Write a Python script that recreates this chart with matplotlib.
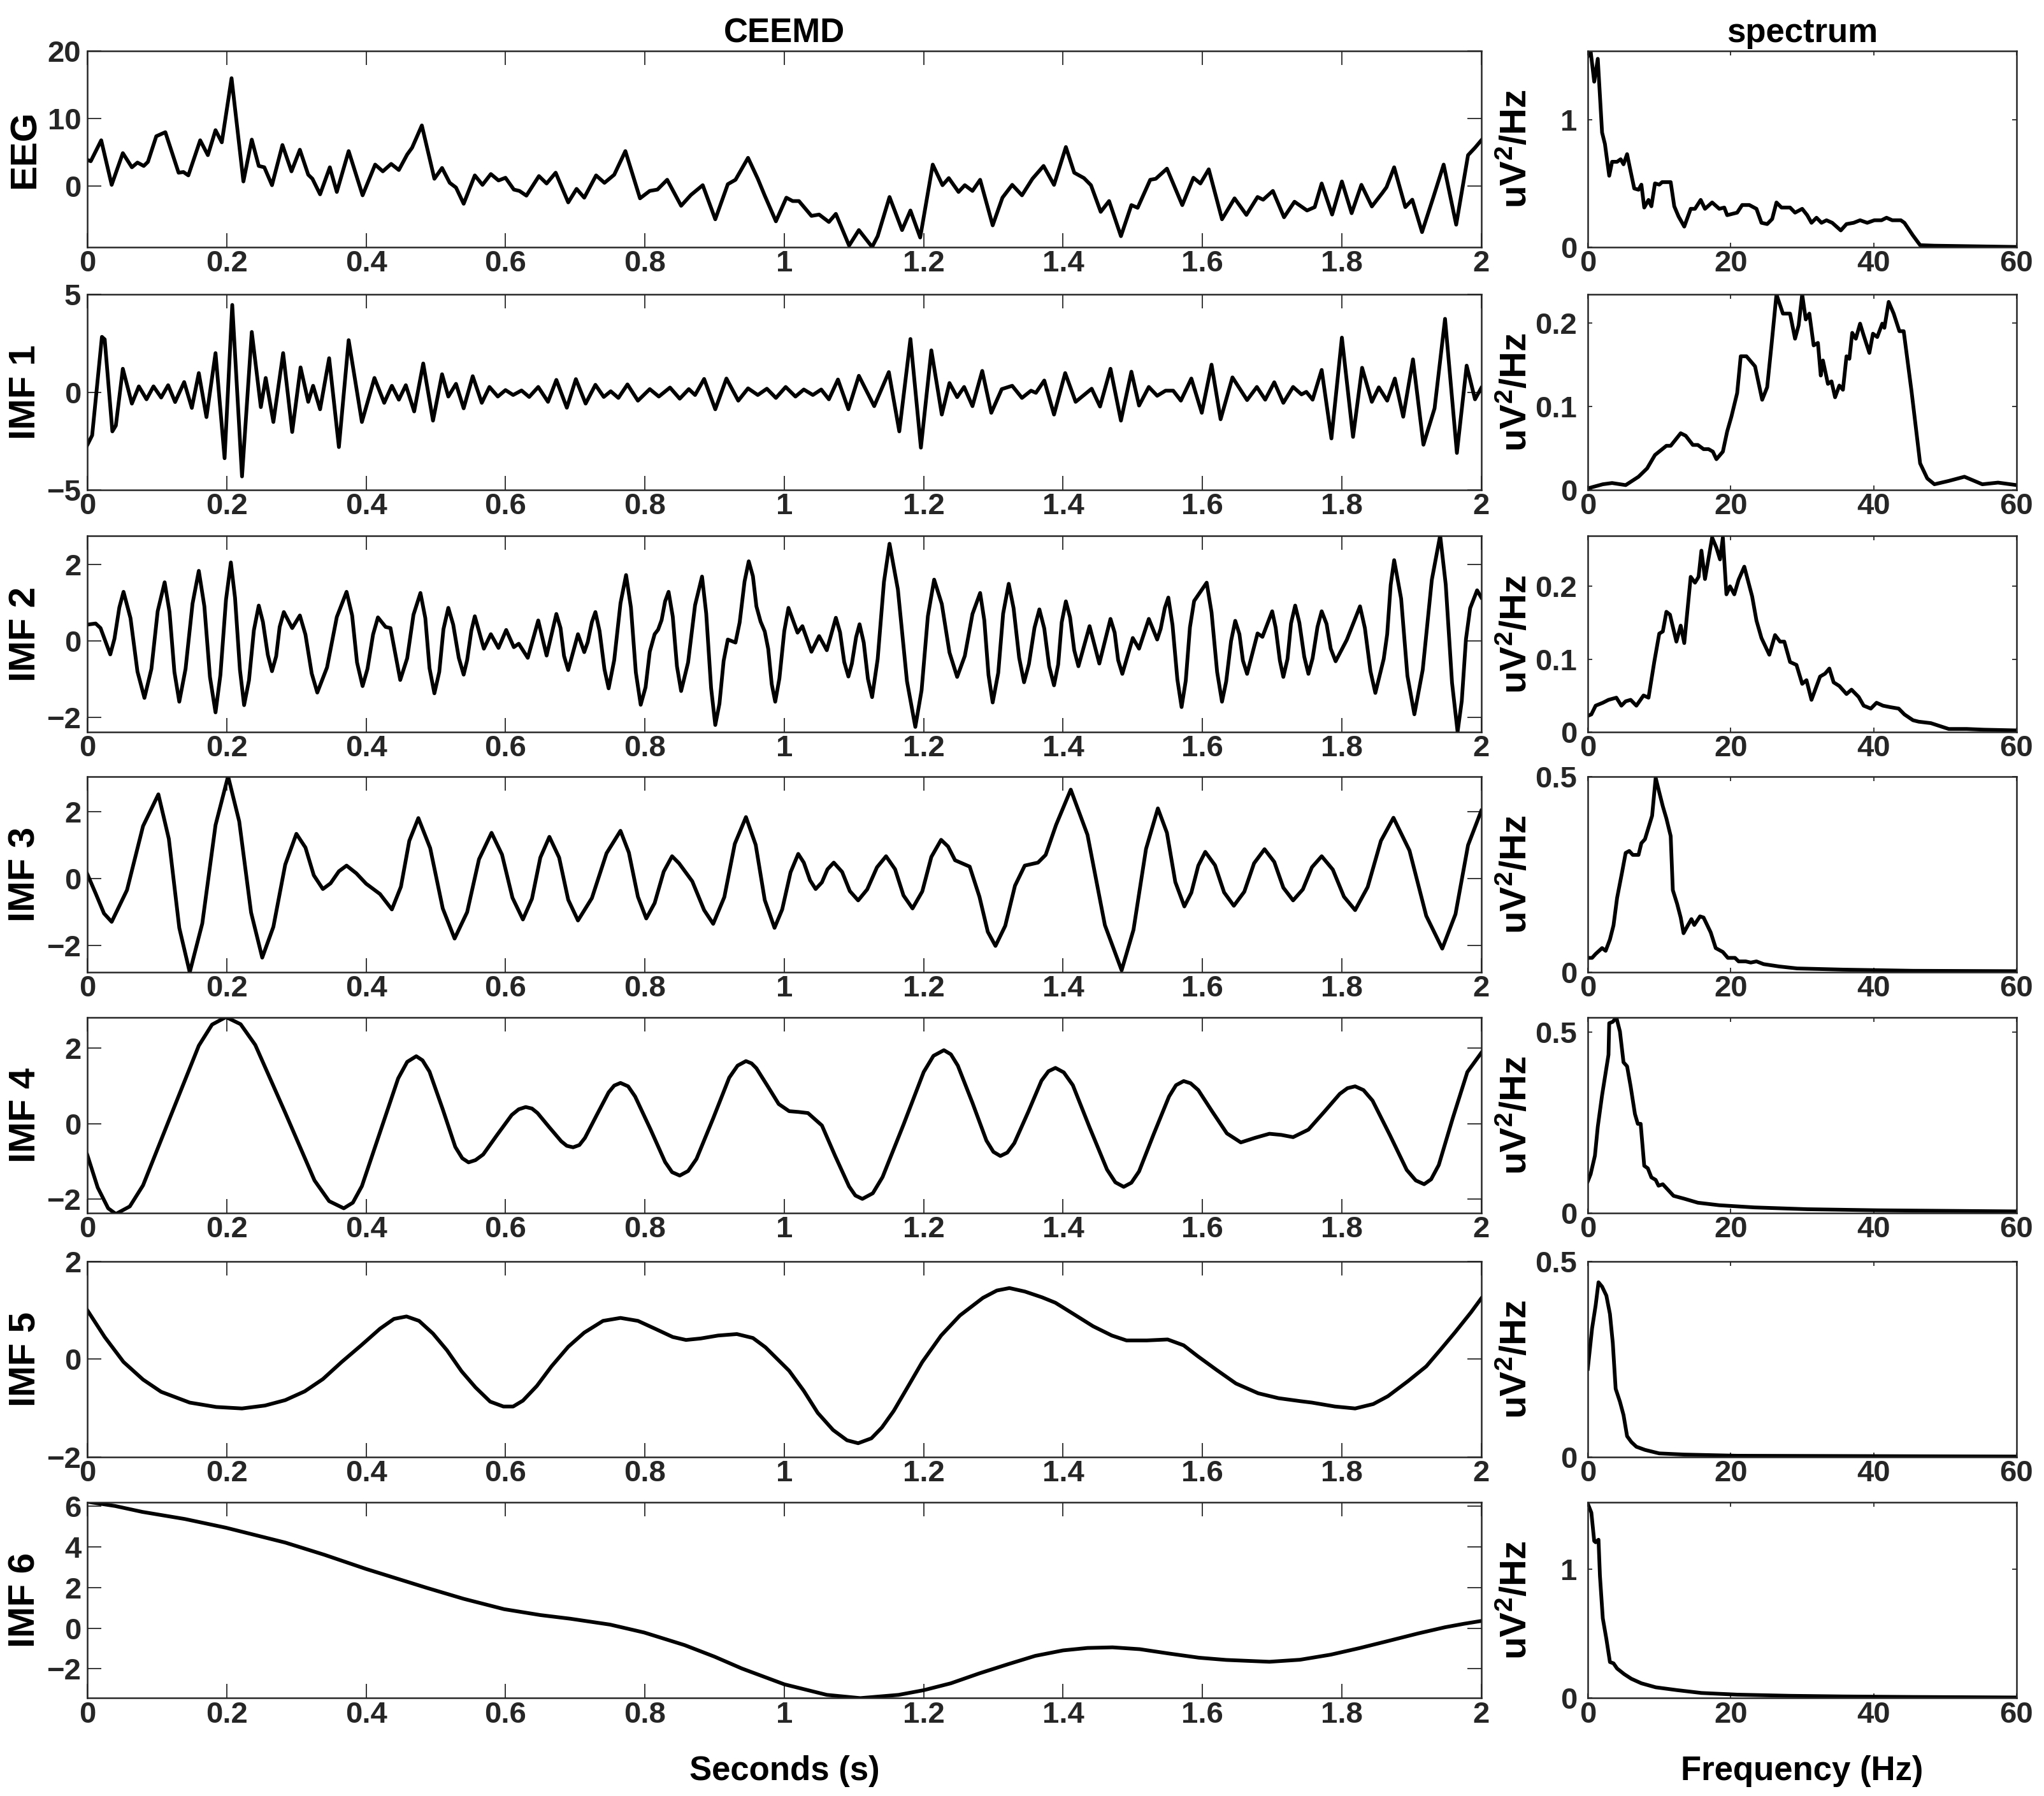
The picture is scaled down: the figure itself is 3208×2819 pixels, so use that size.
import numpy as np
import matplotlib
matplotlib.use('Agg')
import matplotlib.pyplot as plt

plt.rcParams['font.family'] = ['Liberation Sans', 'DejaVu Sans']
plt.rcParams['font.weight'] = 'bold'
plt.rcParams['mathtext.fontset'] = 'custom'
plt.rcParams['mathtext.rm'] = 'Liberation Sans:bold'
plt.rcParams['mathtext.bf'] = 'Liberation Sans:bold'
plt.rcParams['mathtext.default'] = 'bf'

# ---- time series: (seconds, value) ----
eeg = np.array([
    [0.000, 3.9], [0.005, 3.7], [0.020, 6.8], [0.035, 0.2], [0.051, 4.9], [0.064, 2.8], [0.072, 3.5],
    [0.081, 3.0], [0.087, 3.6], [0.099, 7.4], [0.112, 8.0], [0.131, 2.0], [0.138, 2.1], [0.145, 1.6],
    [0.162, 6.8], [0.173, 4.6], [0.184, 8.3], [0.193, 6.5], [0.207, 16.0], [0.224, 0.7], [0.236, 6.9],
    [0.246, 3.0], [0.254, 2.8], [0.265, 0.15], [0.280, 6.1], [0.293, 2.2], [0.305, 5.4], [0.317, 1.7],
    [0.323, 1.1], [0.334, -1.2], [0.348, 2.8], [0.358, -0.85], [0.375, 5.2], [0.395, -1.35], [0.413, 3.2],
    [0.424, 2.2], [0.436, 3.3], [0.447, 2.4], [0.459, 4.7], [0.466, 5.7], [0.480, 9.0], [0.498, 1.1],
    [0.509, 2.7], [0.520, 0.5], [0.529, -0.2], [0.540, -2.6], [0.556, 1.6], [0.567, 0.2], [0.579, 1.8],
    [0.590, 0.85], [0.600, 1.25], [0.612, -0.5], [0.620, -0.7], [0.630, -1.4], [0.648, 1.5], [0.659, 0.4],
    [0.672, 2.0], [0.690, -2.4], [0.702, -0.4], [0.713, -1.7], [0.730, 1.6], [0.742, 0.5], [0.756, 1.7],
    [0.772, 5.2], [0.793, -1.8], [0.807, -0.7], [0.818, -0.5], [0.832, 0.95], [0.852, -2.9], [0.866, -1.3],
    [0.883, 0.15], [0.901, -4.9], [0.919, 0.3], [0.930, 0.95], [0.948, 4.2], [0.962, 1.1], [0.972, -1.4],
    [0.988, -5.2], [1.003, -1.7], [1.012, -2.2], [1.021, -2.2], [1.039, -4.4], [1.050, -4.2], [1.064, -5.3],
    [1.074, -4.1], [1.093, -8.8], [1.107, -6.5], [1.126, -9.0], [1.134, -7.4], [1.151, -1.6], [1.169, -6.5],
    [1.181, -3.6], [1.195, -7.6], [1.213, 3.2], [1.227, 0.15], [1.236, 1.2], [1.250, -0.85], [1.259, 0.15],
    [1.270, -0.7], [1.281, 0.95], [1.299, -5.8], [1.313, -1.7], [1.327, 0.2], [1.341, -1.35], [1.356, 1.1],
    [1.372, 3.0], [1.387, 0.2], [1.404, 5.8], [1.416, 2.0], [1.430, 1.2], [1.440, 0.15], [1.454, -3.8],
    [1.466, -2.2], [1.483, -7.4], [1.498, -2.8], [1.507, -3.2], [1.525, 0.95], [1.533, 1.1], [1.549, 2.6],
    [1.571, -2.8], [1.587, 1.25], [1.597, 0.4], [1.609, 2.5], [1.628, -4.9], [1.646, -1.8], [1.663, -4.25],
    [1.679, -1.6], [1.687, -2.0], [1.701, -0.7], [1.717, -4.6], [1.732, -2.3], [1.750, -3.6], [1.761, -3.1],
    [1.771, 0.4], [1.786, -4.2], [1.800, 0.7], [1.814, -4.0], [1.828, 0.2], [1.843, -3.0], [1.858, -1.0],
    [1.864, -0.15], [1.875, 2.8], [1.891, -3.1], [1.901, -2.0], [1.915, -6.8], [1.931, -1.7], [1.946, 3.2],
    [1.964, -5.7], [1.981, 4.6], [1.991, 5.7], [2.000, 6.8]])

imf1 = np.array([
    [0.000, -2.7], [0.007, -2.2], [0.021, 2.83], [0.025, 2.7], [0.036, -2.0], [0.041, -1.7], [0.051, 1.2],
    [0.064, -0.58], [0.074, 0.3], [0.085, -0.36], [0.095, 0.3], [0.106, -0.27], [0.116, 0.36], [0.126, -0.5],
    [0.139, 0.52], [0.150, -0.8], [0.160, 0.98], [0.171, -1.27], [0.184, 2.0], [0.197, -3.37], [0.208, 4.46],
    [0.222, -4.3], [0.236, 3.08], [0.249, -0.76], [0.256, 0.73], [0.267, -1.52], [0.281, 2.0], [0.294, -2.03],
    [0.306, 1.27], [0.317, -0.49], [0.324, 0.33], [0.334, -0.87], [0.347, 1.74], [0.361, -2.8], [0.375, 2.66],
    [0.394, -1.52], [0.412, 0.73], [0.426, -0.54], [0.437, 0.33], [0.447, -0.38], [0.457, 0.36], [0.469, -0.98],
    [0.482, 1.47], [0.496, -1.45], [0.509, 0.92], [0.518, -0.22], [0.529, 0.43], [0.540, -0.82], [0.553, 0.82],
    [0.566, -0.54], [0.577, 0.27], [0.589, -0.22], [0.600, 0.11], [0.611, -0.14], [0.623, 0.09], [0.634, -0.24],
    [0.647, 0.27], [0.661, -0.49], [0.673, 0.63], [0.688, -0.79], [0.701, 0.67], [0.715, -0.58], [0.729, 0.38],
    [0.741, -0.24], [0.751, 0.05], [0.762, -0.29], [0.775, 0.40], [0.790, -0.43], [0.807, 0.16], [0.820, -0.22],
    [0.836, 0.24], [0.850, -0.33], [0.863, 0.16], [0.872, -0.14], [0.885, 0.68], [0.901, -0.87], [0.917, 0.70],
    [0.934, -0.43], [0.948, 0.20], [0.962, -0.14], [0.975, 0.18], [0.988, -0.29], [1.002, 0.27], [1.016, -0.22],
    [1.028, 0.14], [1.041, -0.14], [1.053, 0.14], [1.064, -0.36], [1.077, 0.65], [1.092, -0.87], [1.107, 0.84],
    [1.129, -0.71], [1.150, 1.03], [1.165, -2.0], [1.181, 2.72], [1.196, -2.83], [1.211, 2.14], [1.226, -1.14],
    [1.237, 0.47], [1.248, -0.25], [1.258, 0.27], [1.270, -0.71], [1.284, 1.09], [1.297, -1.05], [1.312, 0.16],
    [1.327, 0.33], [1.341, -0.29], [1.354, 0.08], [1.361, -0.03], [1.373, 0.60], [1.387, -1.14], [1.403, 0.98],
    [1.418, -0.49], [1.441, 0.18], [1.453, -0.73], [1.468, 1.20], [1.483, -1.45], [1.498, 1.05], [1.509, -0.68],
    [1.523, 0.27], [1.535, -0.18], [1.547, 0.08], [1.558, 0.08], [1.569, -0.43], [1.584, 0.70], [1.599, -1.05],
    [1.613, 1.41], [1.626, -1.38], [1.643, 0.76], [1.664, -0.40], [1.678, 0.27], [1.690, -0.38], [1.703, 0.51],
    [1.716, -0.54], [1.730, 0.27], [1.742, -0.11], [1.749, 0.02], [1.758, -0.38], [1.771, 1.14], [1.785, -2.36],
    [1.800, 2.79], [1.816, -2.28], [1.829, 1.25], [1.843, -0.49], [1.853, 0.25], [1.865, -0.43], [1.876, 0.70],
    [1.888, -1.25], [1.902, 1.68], [1.917, -2.68], [1.933, -0.82], [1.948, 3.75], [1.965, -3.10], [1.979, 1.36],
    [1.991, -0.36], [2.000, 0.22]])

imf2 = np.array([
    [0.000, 0.43], [0.012, 0.46], [0.019, 0.34], [0.033, -0.35], [0.039, 0.06], [0.046, 0.88], [0.052, 1.29],
    [0.062, 0.60], [0.072, -0.80], [0.082, -1.49], [0.092, -0.73], [0.101, 0.78], [0.111, 1.54], [0.118, 0.76],
    [0.125, -0.81], [0.132, -1.59], [0.141, -0.73], [0.151, 0.98], [0.160, 1.84], [0.168, 0.91], [0.176, -0.94],
    [0.184, -1.87], [0.191, -0.89], [0.199, 1.08], [0.206, 2.06], [0.212, 1.13], [0.219, -0.75], [0.225, -1.68],
    [0.232, -1.03], [0.239, 0.28], [0.246, 0.93], [0.252, 0.50], [0.259, -0.36], [0.265, -0.79], [0.271, -0.40],
    [0.276, 0.37], [0.282, 0.76], [0.294, 0.34], [0.305, 0.67], [0.313, 0.17], [0.322, -0.85], [0.330, -1.35],
    [0.344, -0.69], [0.358, 0.63], [0.372, 1.29], [0.380, 0.67], [0.387, -0.56], [0.395, -1.18], [0.402, -0.73],
    [0.410, 0.17], [0.417, 0.62], [0.428, 0.37], [0.435, 0.34], [0.449, -1.02], [0.459, -0.45], [0.468, 0.69],
    [0.478, 1.26], [0.485, 0.60], [0.491, -0.71], [0.498, -1.37], [0.505, -0.81], [0.511, 0.31], [0.518, 0.87],
    [0.525, 0.43], [0.533, -0.44], [0.540, -0.88], [0.545, -0.50], [0.551, 0.27], [0.556, 0.65], [0.569, -0.20],
    [0.579, 0.18], [0.590, -0.18], [0.601, 0.29], [0.612, -0.16], [0.619, -0.07], [0.632, -0.44], [0.647, 0.54],
    [0.659, -0.38], [0.673, 0.71], [0.679, 0.34], [0.684, -0.39], [0.690, -0.76], [0.704, 0.18], [0.713, -0.29],
    [0.718, -0.03], [0.724, 0.50], [0.729, 0.76], [0.735, 0.26], [0.742, -0.74], [0.748, -1.24], [0.756, -0.50],
    [0.765, 0.99], [0.773, 1.73], [0.780, 0.88], [0.787, -0.82], [0.794, -1.67], [0.801, -1.21], [0.807, -0.28],
    [0.814, 0.18], [0.819, 0.30], [0.824, 0.55], [0.829, 1.04], [0.834, 1.29], [0.840, 0.64], [0.846, -0.66],
    [0.852, -1.31], [0.862, -0.56], [0.872, 0.94], [0.882, 1.69], [0.888, 0.72], [0.895, -1.23], [0.901, -2.20],
    [0.907, -1.64], [0.913, -0.52], [0.919, 0.04], [0.930, -0.04], [0.936, 0.49], [0.943, 1.56], [0.949, 2.09],
    [0.955, 1.70], [0.960, 0.91], [0.966, 0.51], [0.972, 0.25], [0.977, -0.21], [0.982, -1.13], [0.987, -1.59],
    [0.993, -0.98], [1.000, 0.26], [1.006, 0.87], [1.019, 0.22], [1.026, 0.39], [1.039, -0.28], [1.050, 0.13],
    [1.061, -0.24], [1.074, 0.61], [1.080, 0.23], [1.086, -0.55], [1.092, -0.93], [1.097, -0.59], [1.103, 0.10],
    [1.108, 0.44], [1.114, -0.04], [1.120, -0.99], [1.126, -1.47], [1.134, -0.47], [1.143, 1.55], [1.151, 2.55],
    [1.163, 1.35], [1.176, -1.05], [1.188, -2.25], [1.197, -1.29], [1.206, 0.65], [1.215, 1.61], [1.226, 0.97],
    [1.237, -0.30], [1.248, -0.94], [1.259, -0.39], [1.270, 0.71], [1.281, 1.26], [1.287, 0.54], [1.293, -0.89],
    [1.299, -1.61], [1.307, -0.83], [1.314, 0.72], [1.322, 1.50], [1.329, 0.86], [1.337, -0.44], [1.344, -1.08],
    [1.351, -0.60], [1.359, 0.35], [1.366, 0.83], [1.373, 0.33], [1.380, -0.66], [1.387, -1.16], [1.393, -0.61],
    [1.398, 0.49], [1.404, 1.04], [1.410, 0.62], [1.416, -0.24], [1.422, -0.66], [1.438, 0.39], [1.452, -0.59],
    [1.468, 0.58], [1.474, 0.22], [1.479, -0.50], [1.485, -0.86], [1.500, 0.08], [1.509, -0.20], [1.523, 0.58],
    [1.535, 0.04], [1.540, 0.32], [1.546, 0.87], [1.551, 1.14], [1.557, 0.42], [1.564, -1.01], [1.570, -1.73],
    [1.576, -1.04], [1.582, 0.36], [1.588, 1.05], [1.606, 1.53], [1.613, 0.75], [1.621, -0.81], [1.628, -1.59],
    [1.634, -1.06], [1.641, 0.00], [1.647, 0.53], [1.653, 0.18], [1.658, -0.51], [1.664, -0.86], [1.679, 0.20],
    [1.686, 0.11], [1.700, 0.78], [1.705, 0.35], [1.711, -0.51], [1.716, -0.94], [1.722, -0.47], [1.727, 0.46],
    [1.733, 0.93], [1.739, 0.48], [1.746, -0.41], [1.752, -0.86], [1.758, -0.45], [1.765, 0.37], [1.771, 0.78],
    [1.778, 0.45], [1.784, -0.20], [1.791, -0.53], [1.807, 0.03], [1.826, 0.91], [1.833, 0.34], [1.841, -0.79],
    [1.848, -1.36], [1.860, -0.47], [1.865, 0.18], [1.870, 1.47], [1.875, 2.12], [1.885, 1.11], [1.894, -0.91],
    [1.904, -1.92], [1.916, -0.75], [1.929, 1.60], [1.941, 2.77], [1.949, 1.48], [1.958, -1.09], [1.966, -2.38],
    [1.972, -1.57], [1.978, 0.05], [1.984, 0.86], [1.994, 1.33], [2.000, 1.14]])

imf3 = np.array([
    [0.000, 0.13], [0.012, -0.45], [0.024, -1.05], [0.035, -1.30], [0.057, -0.35], [0.080, 1.56], [0.102, 2.51],
    [0.117, 1.18], [0.132, -1.48], [0.147, -2.81], [0.165, -1.35], [0.184, 1.59], [0.202, 3.05], [0.218, 1.70],
    [0.235, -1.02], [0.251, -2.37], [0.267, -1.45], [0.284, 0.41], [0.300, 1.33], [0.313, 0.92], [0.325, 0.09],
    [0.338, -0.32], [0.349, -0.15], [0.361, 0.21], [0.372, 0.38], [0.386, 0.15], [0.400, -0.16], [0.420, -0.47],
    [0.437, -0.93], [0.450, -0.25], [0.462, 1.12], [0.475, 1.80], [0.492, 0.90], [0.510, -0.90], [0.527, -1.80],
    [0.545, -1.01], [0.562, 0.57], [0.580, 1.36], [0.595, 0.71], [0.610, -0.58], [0.625, -1.23], [0.638, -0.61],
    [0.650, 0.62], [0.663, 1.24], [0.677, 0.62], [0.690, -0.64], [0.704, -1.26], [0.724, -0.59], [0.745, 0.75],
    [0.765, 1.42], [0.777, 0.77], [0.790, -0.55], [0.802, -1.20], [0.814, -0.74], [0.827, 0.20], [0.839, 0.66],
    [0.849, 0.45], [0.868, -0.09], [0.885, -0.95], [0.898, -1.36], [0.914, -0.56], [0.929, 1.03], [0.945, 1.83],
    [0.959, 1.00], [0.972, -0.65], [0.986, -1.48], [0.997, -0.93], [1.009, 0.18], [1.020, 0.73], [1.028, 0.47],
    [1.037, -0.06], [1.045, -0.32], [1.054, -0.12], [1.062, 0.27], [1.071, 0.47], [1.083, 0.19], [1.094, -0.38],
    [1.106, -0.66], [1.119, -0.33], [1.133, 0.33], [1.146, 0.66], [1.159, 0.27], [1.171, -0.51], [1.184, -0.90],
    [1.198, -0.39], [1.211, 0.64], [1.225, 1.15], [1.235, 0.95], [1.245, 0.54], [1.266, 0.35], [1.280, -0.55],
    [1.292, -1.60], [1.303, -2.02], [1.317, -1.42], [1.331, -0.22], [1.345, 0.38], [1.364, 0.47], [1.375, 0.70],
    [1.390, 1.60], [1.411, 2.65], [1.435, 1.30], [1.460, -1.40], [1.484, -2.75], [1.501, -1.54], [1.519, 0.88],
    [1.536, 2.09], [1.549, 1.36], [1.561, -0.11], [1.574, -0.84], [1.584, -0.43], [1.594, 0.38], [1.604, 0.79],
    [1.618, 0.39], [1.631, -0.42], [1.645, -0.82], [1.660, -0.40], [1.674, 0.45], [1.689, 0.87], [1.703, 0.49],
    [1.716, -0.28], [1.730, -0.66], [1.744, -0.33], [1.757, 0.33], [1.771, 0.66], [1.787, 0.26], [1.803, -0.55],
    [1.819, -0.95], [1.837, -0.26], [1.856, 1.12], [1.874, 1.81], [1.897, 0.83], [1.921, -1.12], [1.944, -2.10],
    [1.963, -1.07], [1.981, 0.99], [2.000, 2.02]])

imf4 = np.array([
    [0.000, -0.83], [0.015, -1.70], [0.030, -2.25], [0.041, -2.40], [0.061, -2.20], [0.080, -1.64], [0.120, 0.22],
    [0.160, 2.07], [0.179, 2.63], [0.199, 2.83], [0.220, 2.64], [0.241, 2.09], [0.284, 0.29], [0.326, -1.51],
    [0.347, -2.06], [0.368, -2.25], [0.381, -2.10], [0.394, -1.66], [0.420, -0.23], [0.446, 1.20], [0.459, 1.64],
    [0.472, 1.79], [0.481, 1.68], [0.491, 1.38], [0.510, 0.38], [0.528, -0.62], [0.538, -0.92], [0.547, -1.03],
    [0.557, -0.97], [0.568, -0.82], [0.588, -0.30], [0.609, 0.23], [0.619, 0.38], [0.629, 0.44], [0.638, 0.40],
    [0.646, 0.28], [0.663, -0.10], [0.680, -0.47], [0.688, -0.59], [0.697, -0.63], [0.706, -0.57], [0.714, -0.38],
    [0.731, 0.23], [0.748, 0.83], [0.756, 1.01], [0.765, 1.08], [0.776, 0.99], [0.786, 0.72], [0.808, -0.15],
    [0.829, -1.02], [0.839, -1.29], [0.850, -1.38], [0.862, -1.26], [0.874, -0.94], [0.898, 0.14], [0.921, 1.22],
    [0.933, 1.54], [0.945, 1.66], [0.953, 1.60], [0.960, 1.47], [0.976, 1.00], [0.992, 0.52], [1.007, 0.33],
    [1.020, 0.31], [1.034, 0.28], [1.054, -0.05], [1.073, -0.86], [1.093, -1.67], [1.102, -1.91], [1.112, -2.00],
    [1.127, -1.85], [1.141, -1.42], [1.171, -0.03], [1.200, 1.37], [1.214, 1.80], [1.229, 1.95], [1.239, 1.84],
    [1.249, 1.54], [1.270, 0.55], [1.290, -0.45], [1.300, -0.75], [1.310, -0.86], [1.320, -0.77], [1.330, -0.52],
    [1.350, 0.31], [1.369, 1.14], [1.379, 1.39], [1.389, 1.48], [1.401, 1.36], [1.414, 1.02], [1.438, -0.10],
    [1.463, -1.22], [1.475, -1.56], [1.487, -1.68], [1.498, -1.57], [1.509, -1.27], [1.530, -0.28], [1.552, 0.72],
    [1.562, 1.02], [1.573, 1.13], [1.583, 1.07], [1.594, 0.89], [1.614, 0.32], [1.635, -0.26], [1.655, -0.50],
    [1.675, -0.38], [1.696, -0.27], [1.713, -0.30], [1.730, -0.36], [1.752, -0.16], [1.775, 0.32], [1.797, 0.79],
    [1.808, 0.94], [1.819, 0.99], [1.831, 0.89], [1.844, 0.61], [1.869, -0.31], [1.893, -1.23], [1.906, -1.51],
    [1.918, -1.61], [1.928, -1.48], [1.939, -1.10], [1.959, 0.14], [1.980, 1.37], [2.000, 1.88]])

imf5 = np.array([
    [0.000, 1.00], [0.025, 0.45], [0.052, -0.06], [0.080, -0.42], [0.106, -0.67], [0.147, -0.89], [0.185, -0.98],
    [0.222, -1.01], [0.255, -0.95], [0.284, -0.84], [0.312, -0.66], [0.338, -0.41], [0.365, -0.06], [0.393, 0.28],
    [0.420, 0.62], [0.440, 0.82], [0.458, 0.87], [0.476, 0.78], [0.496, 0.52], [0.516, 0.18], [0.537, -0.25],
    [0.557, -0.58], [0.578, -0.87], [0.597, -0.97], [0.611, -0.97], [0.625, -0.85], [0.645, -0.55], [0.666, -0.15],
    [0.690, 0.25], [0.713, 0.54], [0.740, 0.78], [0.765, 0.84], [0.790, 0.78], [0.816, 0.61], [0.840, 0.45],
    [0.859, 0.39], [0.880, 0.42], [0.905, 0.48], [0.932, 0.51], [0.955, 0.43], [0.973, 0.24], [0.990, 0.00],
    [1.007, -0.24], [1.028, -0.65], [1.048, -1.10], [1.070, -1.45], [1.090, -1.66], [1.106, -1.72], [1.125, -1.62],
    [1.140, -1.40], [1.157, -1.06], [1.178, -0.55], [1.198, -0.06], [1.225, 0.48], [1.252, 0.89], [1.285, 1.25],
    [1.305, 1.40], [1.323, 1.45], [1.345, 1.38], [1.370, 1.26], [1.389, 1.15], [1.415, 0.92], [1.443, 0.67],
    [1.470, 0.48], [1.491, 0.38], [1.520, 0.38], [1.550, 0.40], [1.573, 0.28], [1.593, 0.06], [1.620, -0.22],
    [1.648, -0.50], [1.680, -0.70], [1.709, -0.80], [1.740, -0.86], [1.757, -0.89], [1.790, -0.97], [1.819, -1.01],
    [1.845, -0.92], [1.866, -0.76], [1.895, -0.45], [1.921, -0.15], [1.942, 0.20], [1.962, 0.54], [1.985, 0.95],
    [2.000, 1.24]])

imf6 = np.array([
    [0.000, 6.23], [0.040, 6.02], [0.079, 5.73], [0.140, 5.38], [0.199, 4.95], [0.284, 4.22], [0.340, 3.62],
    [0.400, 2.92], [0.488, 1.98], [0.540, 1.45], [0.598, 0.94], [0.650, 0.65], [0.693, 0.47], [0.750, 0.18],
    [0.799, -0.21], [0.857, -0.83], [0.900, -1.40], [0.939, -1.98], [1.000, -2.76], [1.061, -3.28], [1.109, -3.44],
    [1.164, -3.28], [1.200, -3.05], [1.239, -2.71], [1.280, -2.22], [1.321, -1.77], [1.360, -1.36], [1.400, -1.09],
    [1.435, -0.97], [1.471, -0.94], [1.510, -1.03], [1.553, -1.25], [1.595, -1.45], [1.634, -1.56], [1.696, -1.65],
    [1.740, -1.55], [1.784, -1.30], [1.825, -0.98], [1.866, -0.63], [1.910, -0.25], [1.948, 0.05], [1.975, 0.22],
    [2.000, 0.36]])

# ---- spectra: (Hz, uV^2/Hz) ----
spec_eeg = np.array([
    [0.0, 1.50], [0.4, 1.54], [0.9, 1.30], [1.4, 1.48], [2.0, 0.90], [2.4, 0.81], [3.0, 0.56], [3.4, 0.67],
    [4.1, 0.67], [4.6, 0.69], [5.0, 0.65], [5.5, 0.73], [5.9, 0.62], [6.5, 0.46], [7.1, 0.45], [7.5, 0.49],
    [7.9, 0.31], [8.5, 0.37], [8.9, 0.32], [9.4, 0.50], [10.0, 0.49], [10.4, 0.51], [11.6, 0.51], [12.1, 0.32],
    [12.7, 0.24], [13.5, 0.16], [14.4, 0.30], [15.0, 0.30], [15.8, 0.37], [16.4, 0.30], [17.4, 0.35], [18.4, 0.30],
    [19.1, 0.31], [19.5, 0.25], [20.9, 0.27], [21.6, 0.33], [22.6, 0.33], [23.6, 0.30], [24.3, 0.19], [25.1, 0.18],
    [25.8, 0.22], [26.4, 0.35], [27.1, 0.31], [28.3, 0.31], [29.0, 0.27], [30.0, 0.30], [30.7, 0.25], [31.3, 0.19],
    [32.0, 0.23], [32.7, 0.19], [33.4, 0.21], [34.2, 0.19], [35.4, 0.13], [36.2, 0.18], [37.2, 0.19], [38.1, 0.21],
    [39.1, 0.19], [40.1, 0.21], [41.1, 0.21], [41.8, 0.23], [42.6, 0.21], [43.8, 0.21], [44.3, 0.19], [45.5, 0.09],
    [46.5, 0.014], [48.5, 0.01], [60.0, 0.0]])

spec_imf1 = np.array([
    [0.0, 0.002], [0.6, 0.0035], [2.1, 0.007], [3.4, 0.0085], [5.3, 0.006], [7.1, 0.016], [8.3, 0.026],
    [9.4, 0.042], [11.0, 0.053], [11.6, 0.053], [13.0, 0.068], [13.7, 0.065], [14.7, 0.054], [15.4, 0.054],
    [16.2, 0.049], [16.9, 0.049], [17.5, 0.046], [18.0, 0.037], [18.9, 0.046], [19.5, 0.070], [20.1, 0.088],
    [20.9, 0.116], [21.4, 0.160], [22.2, 0.160], [23.4, 0.148], [24.4, 0.108], [25.1, 0.123], [25.7, 0.173],
    [26.4, 0.234], [27.3, 0.211], [28.3, 0.211], [29.0, 0.181], [29.5, 0.197], [30.0, 0.234], [30.5, 0.204],
    [31.0, 0.211], [31.6, 0.173], [32.2, 0.176], [32.6, 0.137], [32.9, 0.155], [33.6, 0.127], [34.1, 0.130],
    [34.6, 0.111], [35.2, 0.125], [35.7, 0.120], [36.2, 0.160], [36.6, 0.157], [37.0, 0.188], [37.5, 0.181],
    [38.1, 0.199], [38.6, 0.185], [39.4, 0.164], [39.9, 0.187], [40.5, 0.183], [41.2, 0.199], [41.5, 0.194],
    [42.1, 0.225], [42.8, 0.211], [43.6, 0.190], [44.2, 0.190], [45.3, 0.118], [46.5, 0.032], [47.5, 0.014],
    [48.5, 0.007], [50.5, 0.011], [52.7, 0.016], [55.2, 0.007], [57.4, 0.009], [60.0, 0.006]])

spec_imf2 = np.array([
    [0.0, 0.022], [0.5, 0.024], [1.1, 0.036], [2.1, 0.040], [2.9, 0.044], [4.0, 0.047], [4.7, 0.036],
    [5.3, 0.042], [6.0, 0.044], [6.8, 0.036], [7.8, 0.050], [8.5, 0.047], [9.3, 0.096], [10.0, 0.135],
    [10.5, 0.138], [11.0, 0.165], [11.5, 0.161], [12.4, 0.124], [13.0, 0.146], [13.5, 0.122], [14.4, 0.213],
    [15.0, 0.205], [15.5, 0.213], [15.9, 0.249], [16.4, 0.210], [17.4, 0.267], [18.0, 0.253], [18.5, 0.237],
    [18.9, 0.267], [19.4, 0.189], [19.9, 0.200], [20.5, 0.189], [21.1, 0.209], [21.9, 0.227], [23.0, 0.186],
    [23.6, 0.153], [24.3, 0.129], [25.4, 0.106], [26.2, 0.133], [26.9, 0.124], [27.5, 0.124], [28.3, 0.096],
    [29.2, 0.092], [30.0, 0.066], [30.6, 0.071], [31.3, 0.044], [32.5, 0.076], [33.2, 0.080], [33.8, 0.087],
    [34.4, 0.068], [35.2, 0.063], [36.2, 0.052], [36.9, 0.058], [37.9, 0.048], [38.6, 0.036], [39.6, 0.032],
    [40.4, 0.040], [41.3, 0.036], [42.3, 0.034], [43.5, 0.032], [44.3, 0.024], [45.5, 0.016], [46.3, 0.014],
    [48.0, 0.012], [50.5, 0.004], [53.0, 0.004], [55.4, 0.003], [60.0, 0.002]])

spec_imf3 = np.array([
    [0.0, 0.037], [0.6, 0.037], [1.1, 0.047], [2.0, 0.062], [2.5, 0.055], [3.1, 0.084], [3.6, 0.120],
    [4.1, 0.190], [4.8, 0.256], [5.3, 0.305], [5.8, 0.310], [6.3, 0.300], [7.1, 0.300], [7.5, 0.330],
    [8.0, 0.340], [8.5, 0.370], [9.0, 0.400], [9.5, 0.497], [10.0, 0.460], [10.5, 0.424], [11.0, 0.393],
    [11.6, 0.348], [11.9, 0.210], [12.5, 0.175], [13.0, 0.140], [13.4, 0.100], [14.0, 0.120], [14.5, 0.136],
    [14.9, 0.121], [15.7, 0.143], [16.2, 0.140], [17.2, 0.102], [17.9, 0.062], [18.9, 0.052], [19.6, 0.037],
    [20.6, 0.037], [21.1, 0.028], [22.1, 0.028], [22.8, 0.025], [23.6, 0.028], [24.6, 0.021], [26.8, 0.015],
    [29.3, 0.010], [35.7, 0.007], [45.5, 0.004], [60.0, 0.003]])

spec_imf4 = np.array([
    [0.0, 0.088], [0.4, 0.108], [1.0, 0.159], [1.4, 0.239], [2.0, 0.326], [2.9, 0.438], [3.0, 0.525],
    [3.5, 0.529], [4.0, 0.541], [4.5, 0.502], [5.0, 0.417], [5.5, 0.406], [6.0, 0.350], [6.6, 0.274],
    [7.0, 0.247], [7.4, 0.247], [7.9, 0.131], [8.4, 0.124], [8.9, 0.099], [9.5, 0.092], [9.9, 0.076],
    [10.5, 0.080], [12.0, 0.048], [13.5, 0.040], [15.4, 0.029], [18.4, 0.022], [23.3, 0.016], [30.7, 0.011],
    [40.6, 0.008], [60.0, 0.005]])

spec_imf5 = np.array([
    [0.0, 0.225], [0.6, 0.328], [1.1, 0.387], [1.5, 0.446], [2.0, 0.435], [2.6, 0.412], [3.1, 0.365],
    [3.5, 0.291], [3.9, 0.174], [4.5, 0.141], [5.0, 0.107], [5.5, 0.053], [6.1, 0.038], [6.8, 0.026],
    [8.0, 0.018], [10.0, 0.009], [13.5, 0.006], [20.9, 0.003], [60.0, 0.001]])

spec_imf6 = np.array([
    [0.0, 1.51], [0.5, 1.44], [0.9, 1.22], [1.1, 1.21], [1.5, 1.23], [1.7, 0.95], [2.1, 0.62], [2.6, 0.46],
    [3.1, 0.28], [3.6, 0.27], [4.1, 0.23], [5.1, 0.186], [6.1, 0.15], [7.5, 0.115], [9.5, 0.084], [12.5, 0.062],
    [15.9, 0.040], [20.9, 0.027], [28.3, 0.018], [35.7, 0.013], [45.5, 0.009], [60.0, 0.005]])

row_names = ['EEG', 'IMF 1', 'IMF 2', 'IMF 3', 'IMF 4', 'IMF 5', 'IMF 6']
signals = [eeg, imf1, imf2, imf3, imf4, imf5, imf6]
spectra = [spec_eeg, spec_imf1, spec_imf2, spec_imf3, spec_imf4, spec_imf5, spec_imf6]
sig_ylim = [(-9, 20), (-5, 5), (-2.38, 2.75), (-2.81, 3.04), (-2.38, 2.82), (-2, 2), (-3.44, 6.2)]
sig_yticks = [[0, 10, 20], [-5, 0, 5], [-2, 0, 2], [-2, 0, 2], [-2, 0, 2], [-2, 0, 2], [-2, 0, 2, 4, 6]]
spec_ylim = [(0, 1.54), (0, 0.234), (0, 0.269), (0, 0.5), (0, 0.541), (0, 0.5), (0, 1.52)]
spec_yticks = [[0, 1], [0, 0.1, 0.2], [0, 0.1, 0.2], [0, 0.5], [0, 0.5], [0, 0.5], [0, 1]]
time_ticks = [0, 0.2, 0.4, 0.6, 0.8, 1, 1.2, 1.4, 1.6, 1.8, 2]
freq_ticks = [0, 20, 40, 60]

row_bottoms = [0.8625, 0.7271, 0.5925, 0.4586, 0.3245, 0.1888, 0.0545]
row_h = 0.109
dark = '#262626'

fig = plt.figure(figsize=(32.08, 28.19), dpi=100)


def style(ax, ticklen, ypad):
    for s in ax.spines.values():
        s.set_linewidth(1.8)
        s.set_color(dark)
    ax.tick_params(direction='in', top=True, right=True, length=ticklen, width=1.3,
                   colors=dark, labelsize=34)
    ax.tick_params(axis='x', pad=3)
    ax.tick_params(axis='y', pad=ypad)
    for lab in ax.get_xticklabels() + ax.get_yticklabels():
        lab.set_fontweight('bold')


fmt = lambda v: '%g' % v

for i in range(7):
    b = row_bottoms[i]
    ax = fig.add_axes([0.0427, b, 0.682, row_h])
    ax.plot(signals[i][:, 0], signals[i][:, 1], color='black', lw=4.2, solid_joinstyle='round')
    ax.set_xlim(0, 2)
    ax.set_ylim(*sig_ylim[i])
    ax.set_xticks(time_ticks)
    ax.set_xticklabels([fmt(v) for v in time_ticks])
    ax.set_yticks(sig_yticks[i])
    ax.set_yticklabels([fmt(v).replace('-', '\u2212') for v in sig_yticks[i]])
    style(ax, 16, 7)
    ax.set_ylabel(row_names[i], fontsize=42, fontweight='bold')
    # label's right edge sits just left of the tick labels
    ax.yaxis.set_label_coords(-0.032, 0.5)
    if i == 0:
        ax.set_title('CEEMD', fontsize=38, fontweight='bold', pad=10)
    if i == 6:
        ax.set_xlabel('Seconds (s)', fontsize=38, fontweight='bold', labelpad=30)

    ax2 = fig.add_axes([0.7768, b, 0.2098, row_h])
    ax2.plot(spectra[i][:, 0], spectra[i][:, 1], color='black', lw=4.2, solid_joinstyle='round')
    ax2.set_xlim(0, 60)
    ax2.set_ylim(*spec_ylim[i])
    ax2.set_xticks(freq_ticks)
    ax2.set_xticklabels([fmt(v) for v in freq_ticks])
    ax2.set_yticks(spec_yticks[i])
    ax2.set_yticklabels([fmt(v) for v in spec_yticks[i]])
    style(ax2, 5, 12)
    ax2.set_ylabel(r'uV$^{2}$/Hz', fontsize=42, fontweight='bold')
    ax2.yaxis.set_label_coords(-0.125, 0.5)
    if i == 0:
        ax2.set_title('spectrum', fontsize=38, fontweight='bold', pad=10)
    if i == 6:
        ax2.set_xlabel('Frequency (Hz)', fontsize=38, fontweight='bold', labelpad=30)

fig.savefig('out.png', dpi=100, facecolor='white')
